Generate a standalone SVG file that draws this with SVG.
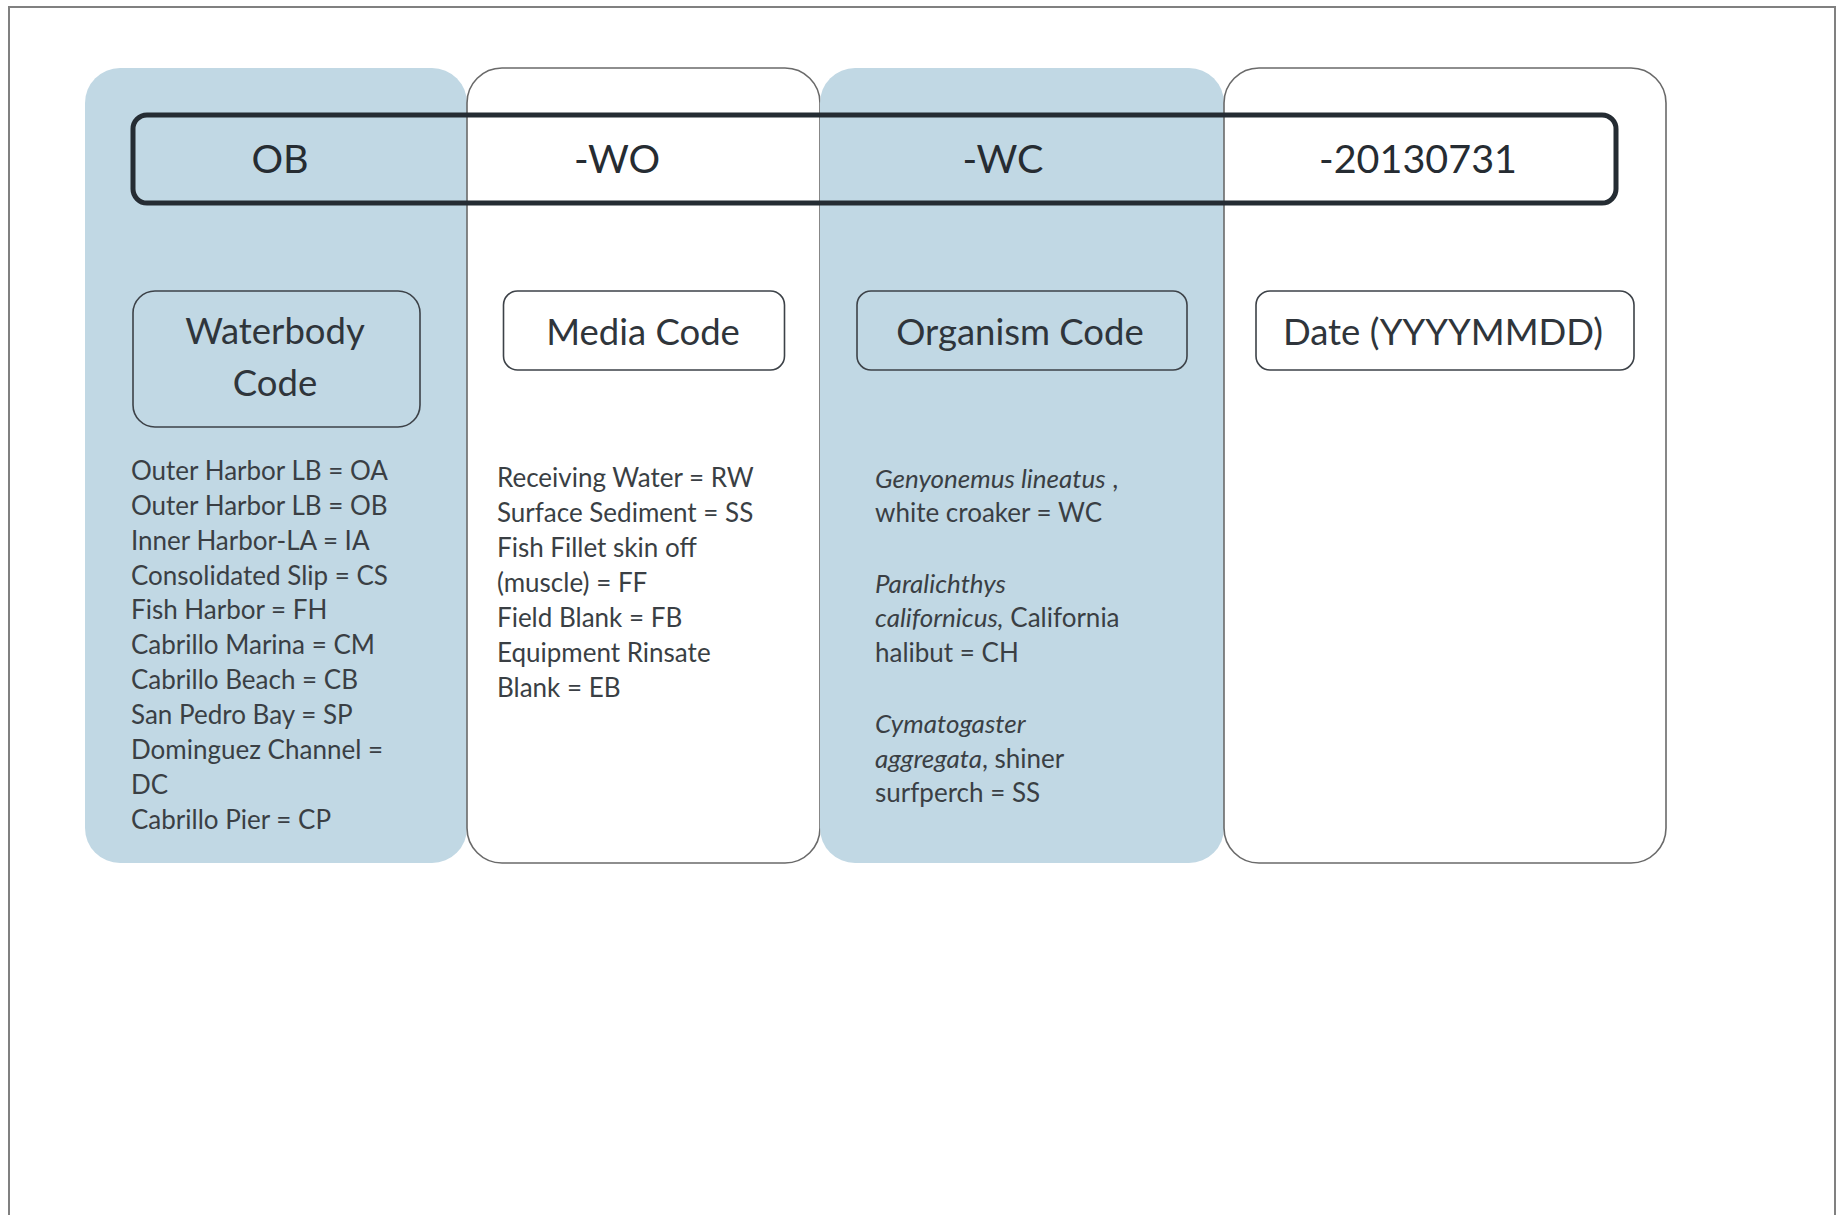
<svg xmlns="http://www.w3.org/2000/svg" width="1843" height="1215" viewBox="0 0 1843 1215">
<style>
.page{fill:none;stroke:#808080;stroke-width:2}
.colB{fill:#c1d8e4;stroke:none}
.colW{fill:#ffffff;stroke:#6a6a6a;stroke-width:1.6}
.strip{fill:none;stroke:#252c33;stroke-width:5}
.boxB{fill:#c1d8e4;stroke:#3d4248;stroke-width:1.6}
.boxW{fill:#ffffff;stroke:#3d4248;stroke-width:1.6}
.code{font-family:Lato,"Liberation Sans",sans-serif;font-size:39.5px;fill:#262c32;text-anchor:middle}
.title{font-family:Lato,"Liberation Sans",sans-serif;font-size:36.5px;fill:#2f353b;text-anchor:middle}
.list{font-family:Lato,"Liberation Sans",sans-serif;font-size:26px;fill:#3a3f44}
.it{font-style:italic}
</style>
<rect x="0" y="0" width="1843" height="1215" fill="#ffffff"/>
<path class="page" d="M9,1216 V7 H1835 V1216"/>
<g id="col-waterbody">
<rect class="colB" x="85" y="68" width="382" height="795" rx="35"/>
</g>
<g id="col-media">
<rect class="colW" x="467" y="68" width="353" height="795" rx="35"/>
</g>
<g id="col-organism">
<rect class="colB" x="820" y="68" width="404" height="795" rx="35"/>
</g>
<g id="col-date">
<rect class="colW" x="1224" y="68" width="442" height="795" rx="35"/>
</g>
<g id="sample-id">
<rect class="strip" x="133" y="115" width="1483" height="88" rx="14"/>
<text class="code" x="280" y="173">OB</text>
<text class="code" x="617" y="173">-WO</text>
<text class="code" x="1003" y="173">-WC</text>
<text class="code" x="1418" y="173">-20130731</text>
</g>
<g id="waterbody-code">
<rect class="boxB" x="133" y="291" width="287" height="136" rx="22"/>
<text class="title" x="275" y="344">Waterbody</text>
<text class="title" x="275" y="396">Code</text>
</g>
<g id="media-code">
<rect class="boxW" x="503.5" y="291" width="281" height="79" rx="14"/>
<text class="title" x="643" y="345">Media Code</text>
</g>
<g id="organism-code">
<rect class="boxB" x="857" y="291" width="330" height="79" rx="14"/>
<text class="title" x="1020" y="345">Organism Code</text>
</g>
<g id="date-code">
<rect class="boxW" x="1256" y="291" width="378" height="79" rx="14"/>
<text class="title" x="1443" y="345">Date (YYYYMMDD)</text>
</g>
<g id="waterbody-list" class="list">
<text x="131" y="480">Outer Harbor LB = OA</text>
<text x="131" y="515">Outer Harbor LB = OB</text>
<text x="131" y="550">Inner Harbor-LA = IA</text>
<text x="131" y="585">Consolidated Slip = CS</text>
<text x="131" y="619">Fish Harbor = FH</text>
<text x="131" y="654">Cabrillo Marina = CM</text>
<text x="131" y="689">Cabrillo Beach = CB</text>
<text x="131" y="724">San Pedro Bay = SP</text>
<text x="131" y="759">Dominguez Channel =</text>
<text x="131" y="794">DC</text>
<text x="131" y="829">Cabrillo Pier = CP</text>
</g>
<g id="media-list" class="list">
<text x="497" y="487">Receiving Water = RW</text>
<text x="497" y="522">Surface Sediment = SS</text>
<text x="497" y="557">Fish Fillet skin off</text>
<text x="497" y="592">(muscle) = FF</text>
<text x="497" y="627">Field Blank = FB</text>
<text x="497" y="662">Equipment Rinsate</text>
<text x="497" y="697">Blank = EB</text>
</g>
<g id="organism-list" class="list">
<text x="875" y="488"><tspan class="it">Genyonemus lineatus</tspan> ,</text>
<text x="875" y="522">white croaker = WC</text>
<text x="875" y="593" class="it">Paralichthys</text>
<text x="875" y="627"><tspan class="it">californicus,</tspan> California</text>
<text x="875" y="662">halibut = CH</text>
<text x="875" y="733" class="it">Cymatogaster</text>
<text x="875" y="768"><tspan class="it">aggregata</tspan>, shiner</text>
<text x="875" y="802">surfperch = SS</text>
</g>
</svg>
